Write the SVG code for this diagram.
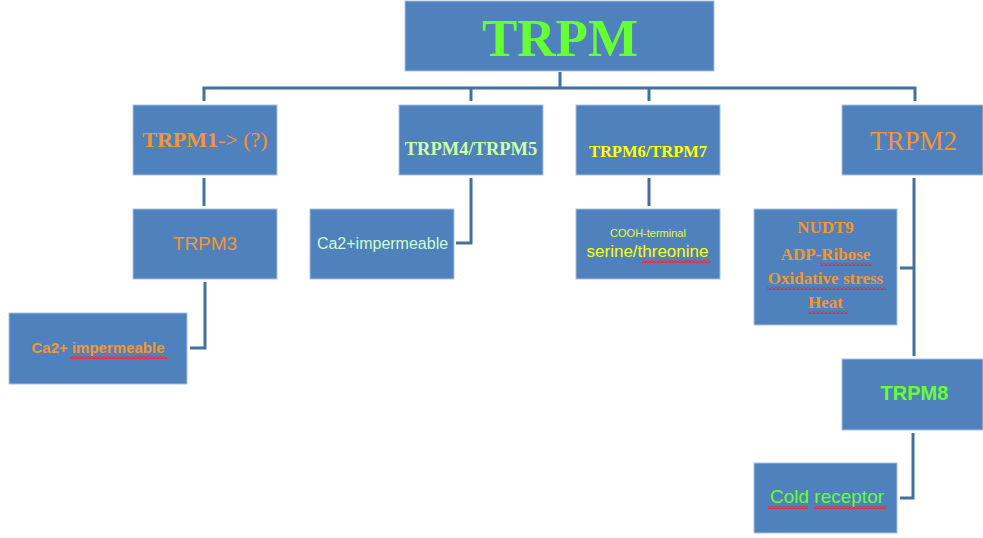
<svg xmlns="http://www.w3.org/2000/svg" width="983" height="538" viewBox="0 0 983 538">
<style>
.box{fill:#4F81BD;stroke:#A9C1E0;stroke-width:1}
.con{fill:none;stroke:#41719C;stroke-width:3}
.serif{font-family:"Liberation Serif","Times New Roman",serif}
.sans{font-family:"Liberation Sans",Arial,sans-serif}
.b{font-weight:bold}
.or{fill:#F7962E}
text{text-anchor:middle}
</style>
<defs>
<pattern id="wave" x="0" y="0" width="4" height="3" patternUnits="userSpaceOnUse">
<path d="M0,2.5 L2,0.5 L4,2.5" fill="none" stroke="#F0283C" stroke-width="1.3"/>
</pattern>
</defs>
<rect width="983" height="538" fill="#FFFFFF"/>
<g id="connectors">
<path class="con" d="M560,72 V88 M204,101 V88 H915 V101 M471,88 V101 M649,88 V101"/>
<path class="con" d="M204,178 V206"/>
<path class="con" d="M205,282 V348 H190"/>
<path class="con" d="M471,178 V243 H456"/>
<path class="con" d="M649,178 V206"/>
<path class="con" d="M914,178 V356 M914,268 H900"/>
<path class="con" d="M913,433 V498 H900"/>
</g>
<g id="trpm">
<rect class="box" x="405" y="1" width="309" height="70"/>
<text class="serif b" x="560" y="56" font-size="53" fill="#66FF33">TRPM</text>
</g>
<g id="trpm1">
<rect class="box" x="133" y="105" width="144" height="70"/>
<text class="serif or" x="205" y="147" font-size="22"><tspan font-weight="bold">TRPM1</tspan>-&gt; (?)</text>
</g>
<g id="trpm45">
<rect class="box" x="399" y="105" width="144" height="70"/>
<text class="serif b" x="471" y="155" font-size="18.5" fill="#CCFFAA">TRPM4/TRPM5</text>
</g>
<g id="trpm67">
<rect class="box" x="576" y="105" width="144" height="70"/>
<text class="serif b" x="648" y="157" font-size="16.5" fill="#FFFF00">TRPM6/TRPM7</text>
</g>
<g id="trpm2">
<rect class="box" x="842" y="105" width="141" height="70"/>
<text class="serif or" x="913.5" y="150" font-size="27">TRPM2</text>
</g>
<g id="trpm3">
<rect class="box" x="133" y="209" width="144" height="70"/>
<text class="sans or" x="205" y="250" font-size="19">TRPM3</text>
</g>
<g id="ca-imp-1">
<rect class="box" x="9" y="313" width="178" height="71"/>
<text class="sans b or" x="98" y="353" font-size="15">Ca2+ impermeable</text>
<rect x="70" y="356" width="97" height="3" fill="url(#wave)"/>
</g>
<g id="ca-imp-2">
<rect class="box" x="310" y="209" width="144" height="70"/>
<text class="sans" x="382.5" y="249" font-size="16" fill="#CCFFCC">Ca2+impermeable</text>
</g>
<g id="cooh">
<rect class="box" x="576" y="209" width="144" height="70"/>
<text class="sans" x="648" y="237" font-size="11" fill="#E6FF33">COOH-terminal</text>
<text class="sans" x="647.5" y="257" font-size="17" fill="#FFFF00">serine/threonine</text>
<rect x="642" y="260" width="68" height="3" fill="url(#wave)"/>
</g>
<g id="nudt9">
<rect class="box" x="754" y="209" width="143" height="116"/>
<text class="serif b or" x="825.5" y="233" font-size="17">NUDT9</text>
<text class="serif b or" x="825.5" y="260" font-size="17">ADP-Ribose</text>
<text class="serif b or" x="825.5" y="284" font-size="17">Oxidative stress</text>
<text class="serif b or" x="825.5" y="308" font-size="17">Heat</text>
<rect x="820" y="263" width="52" height="3" fill="url(#wave)"/>
<rect x="767" y="287" width="119" height="3" fill="url(#wave)"/>
<rect x="808" y="311" width="40" height="3" fill="url(#wave)"/>
</g>
<g id="trpm8">
<rect class="box" x="842" y="359" width="141" height="71"/>
<text class="sans b" x="914.5" y="400" font-size="20" fill="#66FF33">TRPM8</text>
</g>
<g id="cold">
<rect class="box" x="754" y="463" width="143" height="70"/>
<text class="sans" x="827" y="503" font-size="19" fill="#66FF33">Cold receptor</text>
<rect x="768" y="506" width="40" height="3" fill="url(#wave)"/>
<rect x="814" y="506" width="72" height="3" fill="url(#wave)"/>
</g>
</svg>
